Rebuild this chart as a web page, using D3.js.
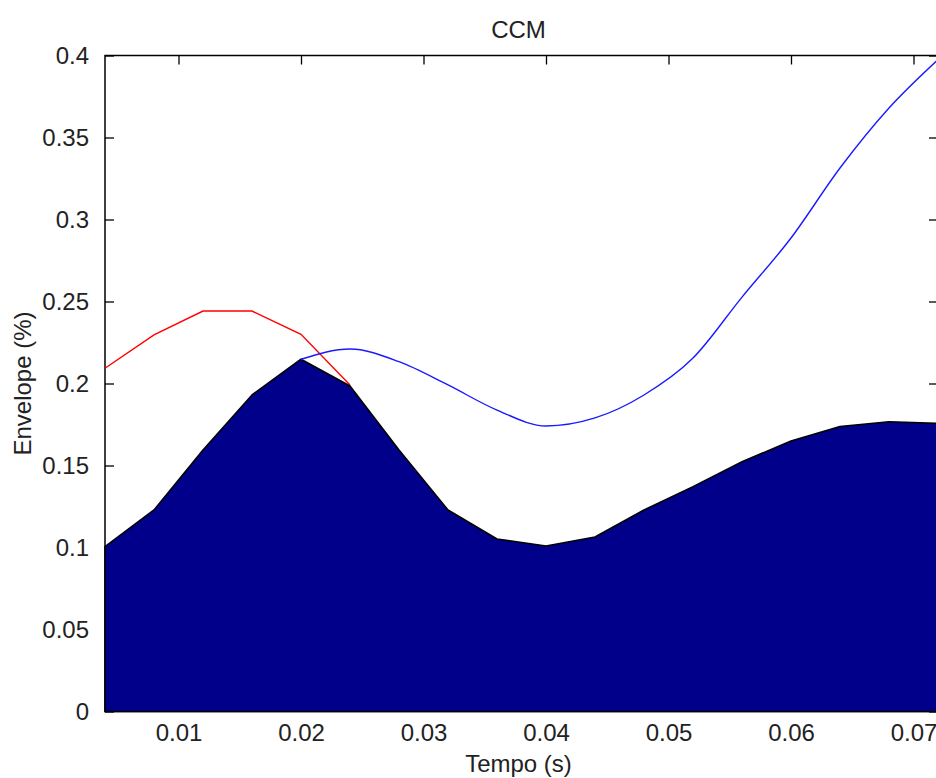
<!DOCTYPE html>
<html>
<head>
<meta charset="utf-8">
<script src="https://cdn.jsdelivr.net/npm/d3@7"></script>
<style>
  html, body { margin: 0; padding: 0; background: #fff; }
  svg { display: block; font-family: "Liberation Sans", Arial, sans-serif; }
</style>
</head>
<body>
<div id="chart"></div>
<script>
// ---------- data ----------
const time = [0.004, 0.008, 0.012, 0.016, 0.020, 0.024, 0.028, 0.032, 0.036,
              0.040, 0.044, 0.048, 0.052, 0.056, 0.060, 0.064, 0.068, 0.072];
const areaValues = [0.1005, 0.1229, 0.1595, 0.1930, 0.2148, 0.1985, 0.1595, 0.1229, 0.1052,
                    0.1009, 0.1064, 0.1229, 0.1371, 0.1523, 0.1649, 0.1738, 0.1767, 0.1757];
const redTime   = [0.004, 0.008, 0.012, 0.016, 0.020, 0.024];
const redValues = [0.2093, 0.2296, 0.2442, 0.2442, 0.2300, 0.1991];
const blueTime   = [0.020, 0.024, 0.028, 0.032, 0.036, 0.040, 0.044, 0.048,
                    0.052, 0.056, 0.060, 0.064, 0.068, 0.072];
const blueValues = [0.2148, 0.2210, 0.2133, 0.1991, 0.1838, 0.1741, 0.1790, 0.1930,
                    0.2155, 0.2527, 0.2887, 0.3314, 0.3680, 0.3975];
const xTicks = [0.01, 0.02, 0.03, 0.04, 0.05, 0.06, 0.07];
const yTicks = [0, 0.05, 0.1, 0.15, 0.2, 0.25, 0.3, 0.35, 0.4];

const title = 'CCM';
const xTitle = 'Tempo (s)';
const yTitle = 'Envelope (%)';

// ---------- layout ----------
const W = 936, H = 778;
const L = 105, R = 938, T = 55.5, B = 711.5;
const TICK = 9;
const FONT = 24;

const svg = d3.select('#chart').append('svg')
  .attr('width', W).attr('height', H);

const x = d3.scaleLinear().domain([0.004, 0.072]).range([L, R]);
const y = d3.scaleLinear().domain([0, 0.4]).range([B, T]);

// axes (ticks pointing inward, MATLAB style)
function styleAxis(g) {
  g.select('.domain').remove();
  g.selectAll('.tick line').attr('stroke', '#000').attr('stroke-width', 1.3);
  g.selectAll('.tick text').attr('fill', '#222').style('font-size', FONT + 'px');
}

svg.append('g')
  .attr('transform', `translate(0,${B})`)
  .call(d3.axisBottom(x).tickValues(xTicks).tickSizeInner(-TICK).tickSizeOuter(0)
        .tickPadding(12).tickFormat(d => String(d)))
  .call(styleAxis);

svg.append('g')
  .attr('transform', `translate(0,${T})`)
  .call(d3.axisTop(x).tickValues(xTicks).tickSizeInner(-TICK).tickSizeOuter(0).tickFormat(''))
  .call(styleAxis);

svg.append('g')
  .attr('transform', `translate(${L},0)`)
  .call(d3.axisLeft(y).tickValues(yTicks).tickSizeInner(-TICK).tickSizeOuter(0)
        .tickPadding(TICK + 7).tickFormat(d => String(d)))
  .call(styleAxis);

svg.append('g')
  .attr('transform', `translate(${R},0)`)
  .call(d3.axisRight(y).tickValues(yTicks).tickSizeInner(-TICK).tickSizeOuter(0).tickFormat(''))
  .call(styleAxis);

// box
svg.append('rect')
  .attr('x', L).attr('y', T).attr('width', R - L).attr('height', B - T)
  .attr('fill', 'none').attr('stroke', '#000').attr('stroke-width', 1.5);

// ---------- marks ----------
const areaData = time.map((t, i) => ({ t, v: areaValues[i] }));
const redData = redTime.map((t, i) => ({ t, v: redValues[i] }));
const blueData = blueTime.map((t, i) => ({ t, v: blueValues[i] }));

const line = d3.line().x(d => x(d.t)).y(d => y(d.v));
const smoothLine = d3.line().curve(d3.curveMonotoneX).x(d => x(d.t)).y(d => y(d.v));

svg.append('path')
  .datum(redData)
  .attr('d', line)
  .attr('fill', 'none')
  .attr('stroke', '#ff0000')
  .attr('stroke-width', 1.4);

svg.append('path')
  .datum(areaData)
  .attr('d', d3.area().x(d => x(d.t)).y0(y(0)).y1(d => y(d.v)))
  .attr('fill', '#00008b')
  .attr('stroke', '#000')
  .attr('stroke-width', 1.6)
  .attr('stroke-linejoin', 'round');

svg.append('path')
  .datum(blueData)
  .attr('d', smoothLine)
  .attr('fill', 'none')
  .attr('stroke', '#1a1aff')
  .attr('stroke-width', 1.4);

// ---------- titles ----------
svg.append('text')
  .attr('x', (L + R) / 2 - 3).attr('y', 38)
  .attr('text-anchor', 'middle')
  .attr('fill', '#222')
  .style('font-size', FONT + 'px')
  .text(title);

svg.append('text')
  .attr('x', (L + R) / 2 - 3).attr('y', 772)
  .attr('text-anchor', 'middle')
  .attr('fill', '#222')
  .style('font-size', FONT + 'px')
  .text(xTitle);

svg.append('text')
  .attr('transform', `translate(31,${(T + B) / 2}) rotate(-90)`)
  .attr('text-anchor', 'middle')
  .attr('fill', '#222')
  .style('font-size', FONT + 'px')
  .text(yTitle);
</script>
</body>
</html>
